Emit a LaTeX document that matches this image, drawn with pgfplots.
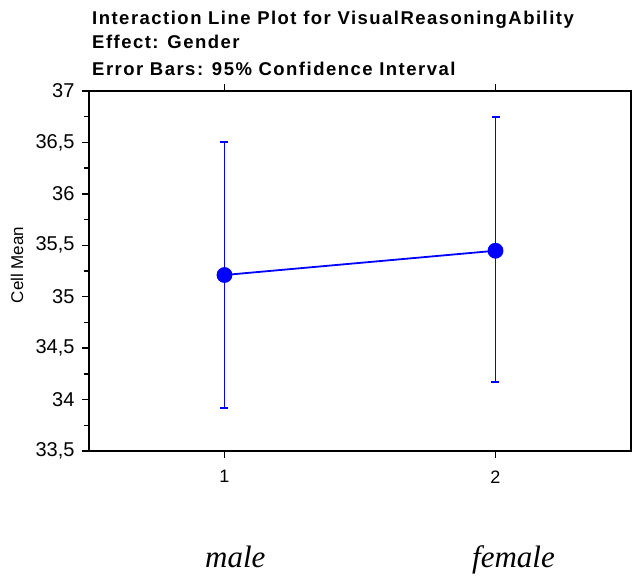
\documentclass[border=0pt]{standalone}
\usepackage{pgfplots}
\pgfplotsset{compat=1.18}
\usepackage{pgfplotstable}
\usepackage{fontspec}
\setmainfont{Liberation Sans}
\newfontfamily\titlefont[LetterSpace=8]{Liberation Sans}
\newfontfamily\catfont{Liberation Serif}
\definecolor{pblue}{RGB}{0,0,255}
\pgfplotstableread{
x y ep em
1 35.211 1.296 1.296
2 35.447 1.303 1.273
}\datatable
\begin{document}
\begin{tikzpicture}
\useasboundingbox (-89pt,-125pt) rectangle (544pt,451pt);
\begin{axis}[
  at={(0pt,0pt)}, anchor=origin,
  scale only axis, width=542pt, height=360pt,
  xmin=0.5, xmax=2.5, ymin=33.5, ymax=37,
  xtick={1,2}, ytick={33.5,34,...,37},
  minor y tick num=1,
  tick align=outside,
  xtick pos=both, ytick pos=left,
  xticklabel pos=lower,
  major tick length=7pt, minor tick length=5pt,
  axis line style={line width=1.8pt},
  every tick/.style={line width=1.3pt, black},
  /pgf/number format/.cd, use comma, fixed, precision=1, assume math mode=true,
  /pgfplots/.cd,
  yticklabel style={font=\fontsize{20}{24}\selectfont, xshift=-4pt},
  xticklabel style={font=\fontsize{18}{21}\selectfont, yshift=-9pt},
  ylabel={Cell Mean},
  every axis y label/.style={at={(-72pt,186pt)}, rotate=90, anchor=center, font=\fontsize{17}{20}\selectfont},
]
\addplot[draw=pblue, line width=1.8pt, mark=*, mark size=7pt, mark options={solid, fill=pblue, draw=pblue},
  error bars/.cd, y dir=both, y explicit,
  error bar style={line width=1.8pt, draw=pblue},
  error mark options={rotate=90, mark size=4pt, line width=1.8pt, draw=pblue}]
  table[x=x, y=y, y error plus=ep, y error minus=em] {\datatable};
\end{axis}
\begin{axis}[
  at={(0pt,0pt)}, anchor=origin,
  scale only axis, width=542pt, height=360pt,
  xmin=0.5, xmax=2.5, ymin=33.5, ymax=37,
  axis lines=none, xtick=\empty,
  ytick={33.5,33.75,...,37.1}, ytick pos=right, tick align=outside,
  yticklabels={}, major tick length=3pt,
  every tick/.style={line width=1.3pt, black},
]
\addplot[draw=none] coordinates {(1,35)};
\end{axis}
\tikzset{ttl/.style={anchor=base west, inner sep=0pt, font=\titlefont\bfseries\fontsize{18.5}{22}\selectfont}}
\node[ttl] at (3pt,426pt) {Interaction Line Plot for VisualReasoningAbility};
\node[ttl] at (3pt,402pt) {Effect: Gender};
\node[ttl] at (3pt,375pt) {Error Bars: 95\% Confidence Interval};
\node[anchor=base west, inner sep=0pt, font=\catfont\itshape\fontsize{31}{36}\selectfont] at (116pt,-117pt) {male};
\node[anchor=base west, inner sep=0pt, font=\catfont\itshape\fontsize{31}{36}\selectfont] at (383pt,-117pt) {female};
\end{tikzpicture}
\end{document}
